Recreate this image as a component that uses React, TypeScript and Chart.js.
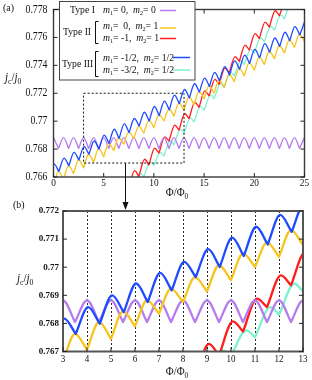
import React, { useEffect, useRef } from 'react';
import { Chart, registerables } from 'chart.js';
Chart.register(...registerables);

const FONT = '"Liberation Serif", "Times New Roman", serif';

// ---- tick labels ----
const xTicksA = [0, 5, 10, 15, 20, 25];
const yTicksA = [0.766, 0.768, 0.77, 0.772, 0.774, 0.776, 0.778];
const xTicksB = [3, 4, 5, 6, 7, 8, 9, 10, 11, 12, 13];
const yTicksB = [0.767, 0.768, 0.769, 0.77, 0.771, 0.772];

// ---- Type I: m1 = 0, m2 = 0 (purple) ----
const phiPurple = [0, 0.5, 1, 1.5, 2, 2.5, 3, 3.5, 4, 4.5, 5, 5.5, 6, 6.5, 7, 7.5, 8, 8.5, 9, 9.5, 10, 10.5, 11, 11.5, 12, 12.5, 13, 13.5, 14, 14.5, 15, 15.5, 16, 16.5, 17, 17.5, 18, 18.5, 19, 19.5, 20, 20.5, 21, 21.5, 22, 22.5, 23, 23.5, 24, 24.5, 25];
const jPurple = [0.76882, 0.76805, 0.76882, 0.76805, 0.76882, 0.76805, 0.76882, 0.76805, 0.76882, 0.76805, 0.76882, 0.76805, 0.76882, 0.76805, 0.76882, 0.76805, 0.76882, 0.76805, 0.76882, 0.76805, 0.76882, 0.76805, 0.76882, 0.76805, 0.76882, 0.76805, 0.76882, 0.76805, 0.76882, 0.76805, 0.76882, 0.76805, 0.76882, 0.76805, 0.76882, 0.76805, 0.76882, 0.76805, 0.76882, 0.76805, 0.76882, 0.76805, 0.76882, 0.76805, 0.76882, 0.76805, 0.76882, 0.76805, 0.76882, 0.76805, 0.76882];

// ---- Type II: m1 = 0, m2 = 1 (yellow) ----
const phiYellow = [0, 0.5, 1, 1.5, 2, 2.5, 3, 3.5, 4, 4.5, 5, 5.5, 6, 6.5, 7, 7.5, 8, 8.5, 9, 9.5, 10, 10.5, 11, 11.5, 12, 12.5, 13, 13.5, 14, 14.5, 15, 15.5, 16, 16.5, 17, 17.5, 18, 18.5, 19, 19.5, 20, 20.5, 21, 21.5, 22, 22.5, 23, 23.5, 24, 24.5, 25];
const jYellow = [0.76543, 0.7664, 0.76584, 0.76681, 0.76625, 0.76722, 0.76666, 0.76763, 0.76707, 0.76805, 0.76745, 0.76843, 0.7679, 0.76882, 0.76835, 0.76924, 0.76876, 0.76965, 0.76914, 0.77007, 0.76954, 0.77049, 0.77001, 0.77088, 0.77037, 0.77132, 0.77079, 0.77173, 0.7712, 0.77214, 0.77161, 0.77255, 0.77202, 0.77296, 0.77243, 0.77337, 0.77284, 0.77378, 0.77325, 0.77419, 0.77366, 0.7746, 0.77407, 0.77501, 0.77448, 0.77542, 0.77489, 0.77583, 0.7753, 0.77624, 0.77571];

// ---- Type II: m1 = -1, m2 = 1 (red) ----
const phiRed = [6.5, 7.08, 7.5, 8.08, 8.5, 9.08, 9.5, 10.08, 10.5, 11.08, 11.5, 12.08, 12.5, 13.08, 13.5, 14.08, 14.5, 15.08, 15.5, 16.08, 16.5, 17.08, 17.5, 18.08, 18.5, 19.08, 19.5, 20.08, 20.5, 21.08, 21.5, 22.08, 22.5, 23.08];
const jRed = [0.7644, 0.76563, 0.76522, 0.76645, 0.76604, 0.76727, 0.76686, 0.76807, 0.76771, 0.76888, 0.76858, 0.76971, 0.76936, 0.77053, 0.77018, 0.77135, 0.771, 0.77217, 0.77182, 0.77299, 0.77264, 0.77381, 0.77346, 0.77463, 0.77428, 0.77545, 0.7751, 0.77627, 0.77592, 0.77709, 0.77674, 0.77791, 0.77756, 0.77873];

// ---- Type III: m1 = -1/2, m2 = 1/2 (blue) ----
const phiBlue = [-0.47, 0.05, 0.53, 1.05, 1.53, 2.05, 2.53, 3.05, 3.53, 4.05, 4.53, 5.05, 5.53, 6.05, 6.53, 7.05, 7.53, 8.05, 8.53, 9.05, 9.53, 10.05, 10.53, 11.05, 11.53, 12.05, 12.53, 13.05, 13.53, 14.05, 14.53, 15.05, 15.53, 16.05, 16.53, 17.05, 17.53, 18.05, 18.53, 19.05, 19.53, 20.05, 20.53, 21.05, 21.53, 22.05, 22.53, 23.05, 23.53, 24.05, 24.53, 25.05];
const jBlue = [0.76599, 0.76694, 0.7664, 0.76735, 0.76681, 0.76776, 0.76722, 0.76817, 0.76763, 0.76858, 0.76799, 0.769, 0.7684, 0.76942, 0.76876, 0.7698, 0.76918, 0.77019, 0.76965, 0.77064, 0.77001, 0.77105, 0.7704, 0.77144, 0.77081, 0.77186, 0.77126, 0.77227, 0.77167, 0.77268, 0.77208, 0.77309, 0.77249, 0.7735, 0.7729, 0.77391, 0.77331, 0.77432, 0.77372, 0.77473, 0.77413, 0.77514, 0.77454, 0.77555, 0.77495, 0.77596, 0.77536, 0.77637, 0.77577, 0.77678, 0.77618, 0.77719];

// ---- Type III: m1 = -3/2, m2 = 1/2 (cyan) ----
const phiCyan = [8, 8.64, 9, 9.64, 10, 10.64, 11, 11.64, 12, 12.64, 13, 13.64, 14, 14.64, 15, 15.64, 16, 16.64, 17, 17.64, 18, 18.64, 19, 19.64, 20, 20.64, 21, 21.64, 22, 22.64, 23, 23.64, 24];
const jCyan = [0.76525, 0.76625, 0.76605, 0.76705, 0.76685, 0.76775, 0.76751, 0.76858, 0.76831, 0.76942, 0.76914, 0.77024, 0.76996, 0.77106, 0.77078, 0.77188, 0.7716, 0.7727, 0.77242, 0.77352, 0.77324, 0.77434, 0.77406, 0.77516, 0.77488, 0.77598, 0.7757, 0.7768, 0.77652, 0.77762, 0.77734, 0.77844, 0.77816];

const PURPLE = '#b57cf0';
const YELLOW = '#f6c41c';
const RED = '#ff1c1c';
const BLUE = '#1e4bff';
const CYAN = '#80f0cf';

const curves = [
  { phi: phiBlue, j: jBlue, color: BLUE },
  { phi: phiYellow, j: jYellow, color: YELLOW },
  { phi: phiPurple, j: jPurple, color: PURPLE },
  { phi: phiRed, j: jRed, color: RED },
  { phi: phiCyan, j: jCyan, color: CYAN },
];

function buildPoints(phi: number[], j: number[]) {
  const pts: { x: number; y: number | null }[] = [];
  for (let i = 0; i < phi.length; i++) {
    pts.push({ x: phi[i], y: j[i] });
    // cusp: break the spline here so each arch is smooth and the cusp stays sharp
    if (i > 0 && i < phi.length - 1 && j[i] < j[i - 1] && j[i] < j[i + 1]) {
      pts.push({ x: phi[i], y: null });
      pts.push({ x: phi[i], y: j[i] });
    }
  }
  return pts;
}

type Part = { t: string; f: string; dy?: number };

function drawRich(ctx: CanvasRenderingContext2D, parts: Part[], x: number, y: number, align: string, sx = 1, color = '#111') {
  let w = 0;
  for (const p of parts) { ctx.font = p.f; w += ctx.measureText(p.t).width; }
  w *= sx;
  const x0 = align === 'left' ? x : align === 'center' ? x - w / 2 : x - w;
  ctx.save();
  ctx.translate(x0, y);
  ctx.scale(sx, 1);
  ctx.textBaseline = 'middle';
  ctx.textAlign = 'left';
  ctx.fillStyle = color;
  let cx = 0;
  for (const p of parts) {
    ctx.font = p.f;
    ctx.fillText(p.t, cx, p.dy || 0);
    cx += ctx.measureText(p.t).width;
  }
  ctx.restore();
}

const fmt = (v: number) => String(Number(v.toFixed(3)));

function jTitle(size: number): Part[] {
  const sub = Math.round(size * 0.68);
  return [
    { t: 'j', f: `italic ${size}px ${FONT}` },
    { t: 'c', f: `${sub}px ${FONT}`, dy: size * 0.3 },
    { t: '/', f: `${size}px ${FONT}` },
    { t: 'j', f: `italic ${size}px ${FONT}` },
    { t: '0', f: `${sub}px ${FONT}`, dy: size * 0.3 },
  ];
}

function phiTitle(size: number): Part[] {
  return [
    { t: 'Φ/Φ', f: `${size}px ${FONT}` },
    { t: '0', f: `${Math.round(size * 0.68)}px ${FONT}`, dy: size * 0.3 },
  ];
}

function mText(a: string, b: string, size: number): Part[] {
  const it = `italic ${size}px ${FONT}`;
  const n = `${size}px ${FONT}`;
  const s = `${Math.round(size * 0.68)}px ${FONT}`;
  return [
    { t: 'm', f: it }, { t: '1', f: s, dy: 3 }, { t: '= ' + a + ',  ', f: n },
    { t: 'm', f: it }, { t: '2', f: s, dy: 3 }, { t: '= ' + b, f: n },
  ];
}

const decorA = {
  id: 'decorA',
  afterDatasetsDraw(chart: any) {
    const ctx: CanvasRenderingContext2D = chart.ctx;
    const xs = chart.scales.x, ys = chart.scales.y;
    const { left, right, top, bottom } = chart.chartArea;
    ctx.save();
    ctx.strokeStyle = '#3a3a3a';
    ctx.lineWidth = 1.4;
    ctx.strokeRect(left, top, right - left, bottom - top);
    ctx.lineWidth = 1;
    ctx.strokeStyle = '#222';
    ctx.beginPath();
    for (const v of yTicksA) {
      const py = ys.getPixelForValue(v);
      ctx.moveTo(left, py); ctx.lineTo(left + 4, py);
      ctx.moveTo(right, py); ctx.lineTo(right - 4, py);
    }
    for (const v of xTicksA) {
      const px = xs.getPixelForValue(v);
      ctx.moveTo(px, bottom); ctx.lineTo(px, bottom - 4);
      ctx.moveTo(px, top); ctx.lineTo(px, top + 4);
    }
    ctx.stroke();
    for (const v of yTicksA) {
      drawRich(ctx, [{ t: fmt(v), f: `11.5px ${FONT}` }], left - 6, ys.getPixelForValue(v), 'right', 0.85);
    }
    for (const v of xTicksA) {
      drawRich(ctx, [{ t: String(v), f: `11px ${FONT}` }], xs.getPixelForValue(v), bottom + 6, 'center', 0.85);
    }
    drawRich(ctx, phiTitle(12), 177, 193, 'center', 0.9);
    drawRich(ctx, jTitle(13), 5, 78, 'left', 0.85);
    drawRich(ctx, [{ t: '(a)', f: `11px ${FONT}` }], 3, 8, 'left', 0.9);

    const rx0 = xs.getPixelForValue(3), rx1 = xs.getPixelForValue(13);
    const ry0 = ys.getPixelForValue(0.772), ry1 = ys.getPixelForValue(0.767);
    ctx.setLineDash([2, 2]);
    ctx.strokeStyle = '#111';
    ctx.lineWidth = 1;
    ctx.strokeRect(rx0, ry0, rx1 - rx0, ry1 - ry0);
    ctx.setLineDash([]);
    const ax = 125.5;
    ctx.beginPath();
    ctx.moveTo(ax, ry1); ctx.lineTo(ax, 204);
    ctx.stroke();
    ctx.fillStyle = '#111';
    ctx.beginPath();
    ctx.moveTo(ax, 210); ctx.lineTo(ax - 3, 202); ctx.lineTo(ax + 3, 202); ctx.closePath();
    ctx.fill();

    ctx.fillStyle = '#fff';
    ctx.fillRect(59.5, 1.5, 135.5, 78.5);
    ctx.strokeStyle = '#444';
    ctx.lineWidth = 1;
    ctx.strokeRect(59.5, 1.5, 135.5, 78.5);
    const lf = `11px ${FONT}`;
    drawRich(ctx, [{ t: 'Type I', f: lf }], 70, 10.5, 'left', 0.88);
    drawRich(ctx, [{ t: 'Type II', f: lf }], 63, 32, 'left', 0.88);
    drawRich(ctx, [{ t: 'Type III', f: lf }], 62, 64.5, 'left', 0.88);
    drawRich(ctx, mText('0', '0', 11), 103, 10.5, 'left', 0.88);
    drawRich(ctx, mText(' 0', '1', 11), 103, 26.5, 'left', 0.88);
    drawRich(ctx, mText('-1', '1', 11), 103, 38.5, 'left', 0.88);
    drawRich(ctx, mText('-1/2', '1/2', 11), 103, 58, 'left', 0.88);
    drawRich(ctx, mText('-3/2', '1/2', 11), 103, 70, 'left', 0.88);
    ctx.strokeStyle = '#111';
    ctx.lineWidth = 1;
    ctx.beginPath();
    ctx.moveTo(98.5, 21.5); ctx.lineTo(95.5, 21.5); ctx.lineTo(95.5, 43.5); ctx.lineTo(98.5, 43.5);
    ctx.moveTo(98.5, 51.5); ctx.lineTo(95.5, 51.5); ctx.lineTo(95.5, 76.5); ctx.lineTo(98.5, 76.5);
    ctx.stroke();
    const lines: [string, number, number, number][] = [
      [PURPLE, 160, 176, 10.5], [YELLOW, 160, 176, 28], [RED, 160, 176, 38.5],
      [BLUE, 173, 190, 57.5], [CYAN, 173, 190, 70],
    ];
    ctx.lineWidth = 1.5;
    for (const [c, x0, x1, y] of lines) {
      ctx.strokeStyle = c;
      ctx.beginPath(); ctx.moveTo(x0, y); ctx.lineTo(x1, y); ctx.stroke();
    }
    ctx.restore();
  },
};

const decorB = {
  id: 'decorB',
  beforeDatasetsDraw(chart: any) {
    const ctx: CanvasRenderingContext2D = chart.ctx;
    const xs = chart.scales.x;
    const { left, right, top, bottom } = chart.chartArea;
    ctx.save();
    ctx.setLineDash([2, 2]);
    ctx.strokeStyle = '#111';
    ctx.lineWidth = 0.9;
    ctx.beginPath();
    for (const v of xTicksB) {
      const px = Math.round(xs.getPixelForValue(v)) + 0.5;
      if (px <= left + 2 || px >= right - 2) continue;
      ctx.moveTo(px, top); ctx.lineTo(px, bottom);
    }
    ctx.stroke();
    ctx.restore();
  },
  afterDatasetsDraw(chart: any) {
    const ctx: CanvasRenderingContext2D = chart.ctx;
    const xs = chart.scales.x, ys = chart.scales.y;
    const { left, right, top, bottom } = chart.chartArea;
    ctx.save();
    ctx.strokeStyle = '#555';
    ctx.lineWidth = 2;
    ctx.strokeRect(left, top, right - left, bottom - top);
    ctx.lineWidth = 1;
    ctx.strokeStyle = '#222';
    ctx.beginPath();
    for (const v of yTicksB) {
      const py = ys.getPixelForValue(v);
      ctx.moveTo(left, py); ctx.lineTo(left + 4, py);
      ctx.moveTo(right, py); ctx.lineTo(right - 4, py);
    }
    for (const v of xTicksB) {
      const px = xs.getPixelForValue(v);
      ctx.moveTo(px, bottom); ctx.lineTo(px, bottom - 4);
    }
    ctx.stroke();
    for (const v of yTicksB) {
      drawRich(ctx, [{ t: fmt(v), f: `bold 9px ${FONT}` }], left - 4, ys.getPixelForValue(v), 'right', 1);
    }
    for (const v of xTicksB) {
      drawRich(ctx, [{ t: String(v), f: `9.5px ${FONT}` }], xs.getPixelForValue(v), bottom + 7.5, 'center', 0.95);
    }
    drawRich(ctx, phiTitle(12), 177, bottom + 20.5, 'center', 0.9);
    drawRich(ctx, jTitle(13), 17, ys.getPixelForValue(0.7695) - 3, 'left', 0.85);
    drawRich(ctx, [{ t: '(b)', f: `11px ${FONT}` }], 13, top - 6, 'left', 0.9);
    ctx.restore();
  },
};

function makeDatasets(width: number) {
  return curves.map((c) => ({
    data: buildPoints(c.phi, c.j),
    borderColor: c.color,
    backgroundColor: c.color,
    borderWidth: width,
    pointRadius: 0,
    fill: false,
    spanGaps: false,
    cubicInterpolationMode: 'monotone',
    borderJoinStyle: 'round',
    borderCapStyle: 'round',
  }));
}

function Panel(props: { top: number; height: number; pad: any; x: [number, number]; y: [number, number]; width: number; plugin: any }) {
  const ref = useRef<HTMLCanvasElement>(null);
  useEffect(() => {
    const chart = new Chart(ref.current as HTMLCanvasElement, {
      type: 'line',
      data: { datasets: makeDatasets(props.width) as any },
      options: {
        animation: false,
        responsive: false,
        maintainAspectRatio: false,
        events: [],
        layout: { padding: props.pad },
        plugins: { legend: { display: false }, tooltip: { enabled: false } },
        elements: { line: { capBezierPoints: false } as any, point: { radius: 0 } },
        scales: {
          x: { type: 'linear', min: props.x[0], max: props.x[1], display: false },
          y: { type: 'linear', min: props.y[0], max: props.y[1], display: false },
        },
      },
      plugins: [props.plugin],
    });
    return () => chart.destroy();
  }, []);
  return (
    <canvas
      ref={ref}
      width={312}
      height={props.height}
      style={{ position: 'absolute', left: 0, top: props.top, width: 312, height: props.height, display: 'block' }}
    />
  );
}

export default function App() {
  return (
    <div style={{ position: 'fixed', left: 0, top: 0, width: 312, height: 380, background: '#fff', overflow: 'hidden' }}>
      <Panel top={0} height={212} pad={{ left: 53.5, right: 7.5, top: 9.5, bottom: 35 }} x={[0, 25]} y={[0.766, 0.778]} width={1.3} plugin={decorA} />
      <Panel top={195} height={185} pad={{ left: 63, right: 9, top: 16, bottom: 28.5 }} x={[3, 13]} y={[0.767, 0.772]} width={2.3} plugin={decorB} />
    </div>
  );
}
